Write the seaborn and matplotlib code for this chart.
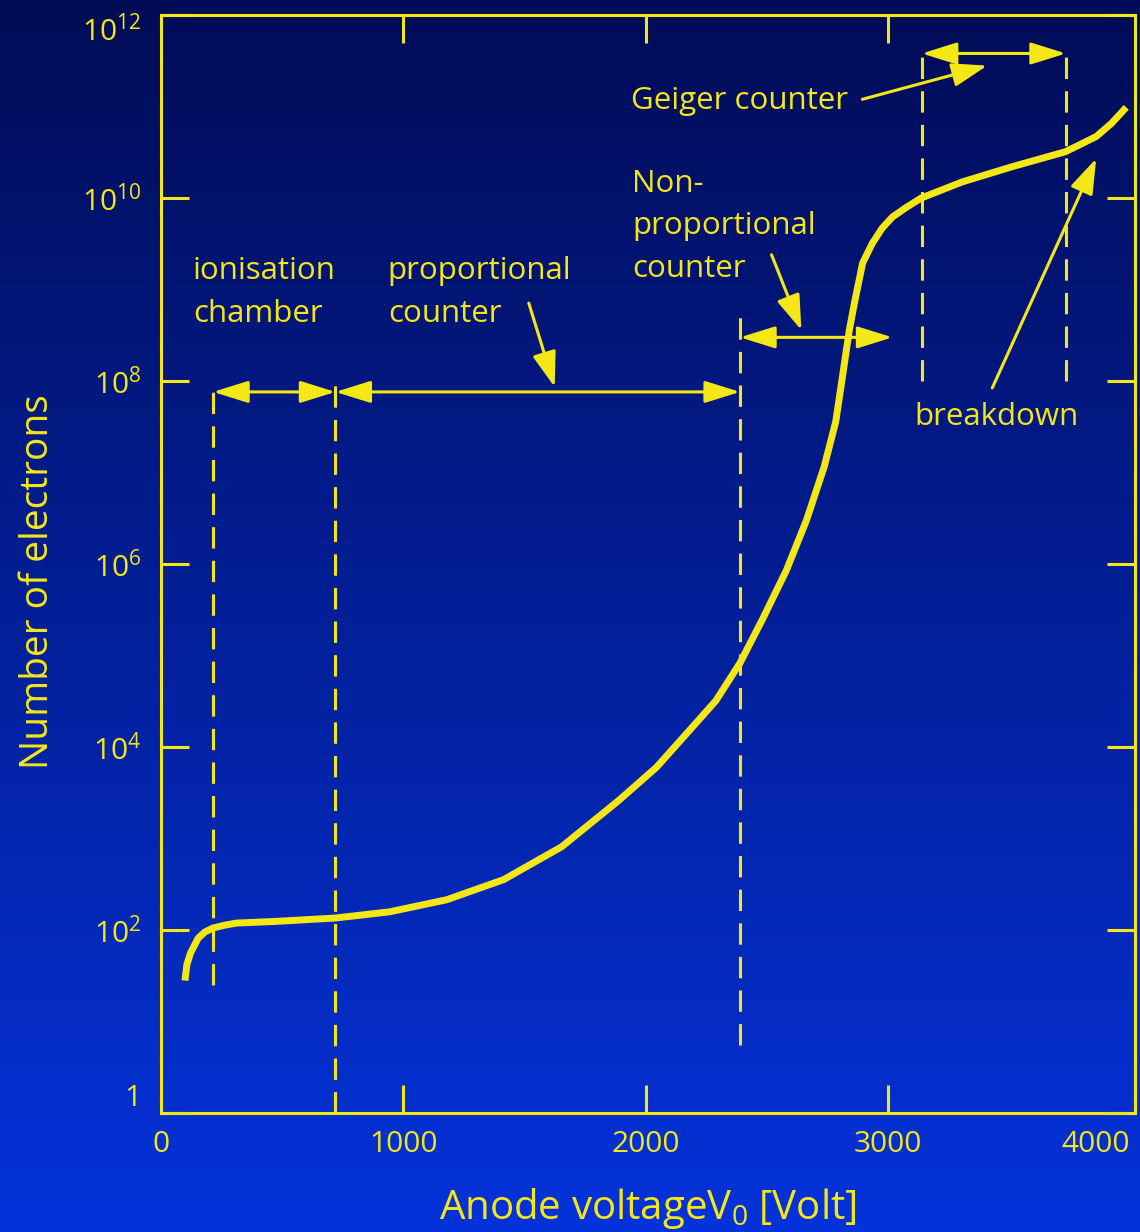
import numpy as np
import matplotlib
matplotlib.use("Agg")
import matplotlib.pyplot as plt
import seaborn as sns
from matplotlib.colors import LinearSegmentedColormap
from matplotlib.ticker import FixedLocator, NullLocator

# curve: anode voltage [V] vs number of electrons
voltage = [99, 107, 122, 153, 181, 214, 264, 311, 470, 718, 944, 1179, 1414,
           1654, 1889, 2045, 2206, 2290, 2390, 2483, 2581, 2664, 2737, 2785,
           2810, 2841, 2862, 2896, 2936, 2977, 3019, 3076, 3138, 3307, 3513,
           3732, 3790, 3860, 3922, 3984]
electrons = [28, 42, 56, 81, 95, 105, 113, 119, 124, 135, 158, 214, 355,
             813, 2.6e3, 6.0e3, 1.8e4, 3.2e4, 8.3e4, 2.5e5, 8.5e5, 3.0e6,
             1.15e7, 3.6e7, 1.0e8, 3.6e8, 7.1e8, 1.95e9, 3.2e9, 4.7e9, 6.2e9,
             7.9e9, 1.0e10, 1.5e10, 2.2e10, 3.2e10, 3.8e10, 4.7e10, 6.5e10,
             9.8e10]

# region boundaries [V]
bounds = [215, 720, 2390, 3140, 3735]

x_ticks = [0, 1000, 2000, 3000, 4000]
y_ticks = [1, 1e2, 1e4, 1e6, 1e8, 1e10, 1e12]
y_labels = ["1"] + [r"$\mathregular{10^{%d}}$" % p for p in range(2, 13, 2)]

YEL = "#F4E716"
TOP_BG = "#010C56"
BOT_BG = "#0533DB"

sns.set_style("ticks")
plt.rcParams["font.family"] = ["Open Sans", "DejaVu Sans"]
plt.rcParams["mathtext.fontset"] = "custom"
plt.rcParams["mathtext.rm"] = "Open Sans"
plt.rcParams["mathtext.it"] = "Open Sans:italic"

fig = plt.figure(figsize=(11.4, 12.32), dpi=100)

# background gradient
bg = fig.add_axes([0, 0, 1, 1], zorder=-10)
cmap = LinearSegmentedColormap.from_list("bg", [TOP_BG, BOT_BG])
bg.imshow(np.linspace(0, 1, 256).reshape(-1, 1), aspect="auto", cmap=cmap,
          extent=[0, 1, 0, 1], origin="upper")
bg.axis("off")

ax = fig.add_axes([0.1412, 0.0966, 0.9956 - 0.1412, 0.9878 - 0.0966])
ax.set_facecolor("none")

sns.lineplot(x=voltage, y=electrons, ax=ax, color=YEL, lw=5, sort=False,
             estimator=None, solid_capstyle="butt", solid_joinstyle="round",
             zorder=5)

ax.set_yscale("log")
ax.set_xlim(0, 4020)
ax.set_ylim(1, 1e12)

# dashed region boundaries
dash = dict(color=YEL, lw=2.2, ls=(0, (7, 4)))
ax.vlines(bounds[0], 25, 1e8, **dash)
ax.vlines(bounds[1], 1, 1e8, **dash)
ax.vlines(bounds[2], 5.5, 5.5e8, **dash)
ax.vlines(bounds[3], 1e8, 4.7e11, **dash)
ax.vlines(bounds[4], 1e8, 4.7e11, **dash)

both = dict(arrowstyle="<|-|>,head_length=0.8,head_width=0.25", color=YEL,
            lw=2.2, mutation_scale=27, shrinkA=0, shrinkB=0)
one = dict(arrowstyle="-|>,head_length=0.8,head_width=0.27", color=YEL,
           lw=2.2, mutation_scale=27, shrinkA=0, shrinkB=0)

ax.annotate("", xy=(bounds[1], 7.6e7), xytext=(bounds[0], 7.6e7), arrowprops=both)
ax.annotate("", xy=(bounds[2], 7.6e7), xytext=(bounds[1], 7.6e7), arrowprops=both)
ax.annotate("", xy=(3019, 3.0e8), xytext=(bounds[2], 3.0e8), arrowprops=both)
ax.annotate("", xy=(bounds[4], 3.8e11), xytext=(bounds[3], 3.8e11), arrowprops=both)

ax.annotate("", xy=(1625, 8.6e7), xytext=(1518, 7.1e8), arrowprops=one)
ax.annotate("", xy=(2643, 3.6e8), xytext=(2520, 2.4e9), arrowprops=one)
ax.annotate("", xy=(3410, 2.8e11), xytext=(2895, 1.2e11), arrowprops=one)
ax.annotate("", xy=(3860, 2.7e10), xytext=(3431, 8.4e7), arrowprops=one)

tkw = dict(color=YEL, fontsize=22.5, linespacing=1.55)
ax.text(132, 2.3e9, "ionisation\nchamber", va="top", ha="left", **tkw)
ax.text(936, 2.3e9, "proportional\ncounter", va="top", ha="left", **tkw)
ax.text(1946, 2.1e10, "Non-\nproportional\ncounter", va="top", ha="left", **tkw)
ax.text(1938, 1.15e11, "Geiger counter", va="center", ha="left", **tkw)
ax.text(3109, 4.0e7, "breakdown", va="center", ha="left", **tkw)

# axes styling
for s in ax.spines.values():
    s.set_color(YEL)
    s.set_linewidth(2.2)

ax.xaxis.set_major_locator(FixedLocator(x_ticks))
ax.set_xticklabels([str(v) for v in x_ticks])
ax.yaxis.set_major_locator(FixedLocator(y_ticks))
ax.set_yticklabels(y_labels)
ax.xaxis.set_minor_locator(NullLocator())
ax.yaxis.set_minor_locator(NullLocator())

ax.tick_params(axis="both", which="major", direction="in", length=20, width=2.2,
               color=YEL, labelcolor=YEL, labelsize=21.5, top=True, right=True,
               labeltop=False, labelright=False)
ax.tick_params(axis="x", pad=12)
ax.tick_params(axis="y", pad=14)

xt = ax.xaxis.get_major_ticks()
for t in (xt[0], xt[-1]):
    t.tick1line.set_visible(False)
    t.tick2line.set_visible(False)
xt[-1].label1.set_horizontalalignment("right")

yt = ax.yaxis.get_major_ticks()
yt[0].label1.set_verticalalignment("bottom")
yt[-1].label1.set_verticalalignment("top")

ax.set_xlabel(r"Anode voltageV$_\mathregular{0}$ [Volt]", color=YEL,
              fontsize=29, labelpad=20)
ax.set_ylabel("Number of electrons", color=YEL, fontsize=28)
ax.yaxis.set_label_coords(-0.107, 0.4836)

fig.savefig("out.png", dpi=100)
